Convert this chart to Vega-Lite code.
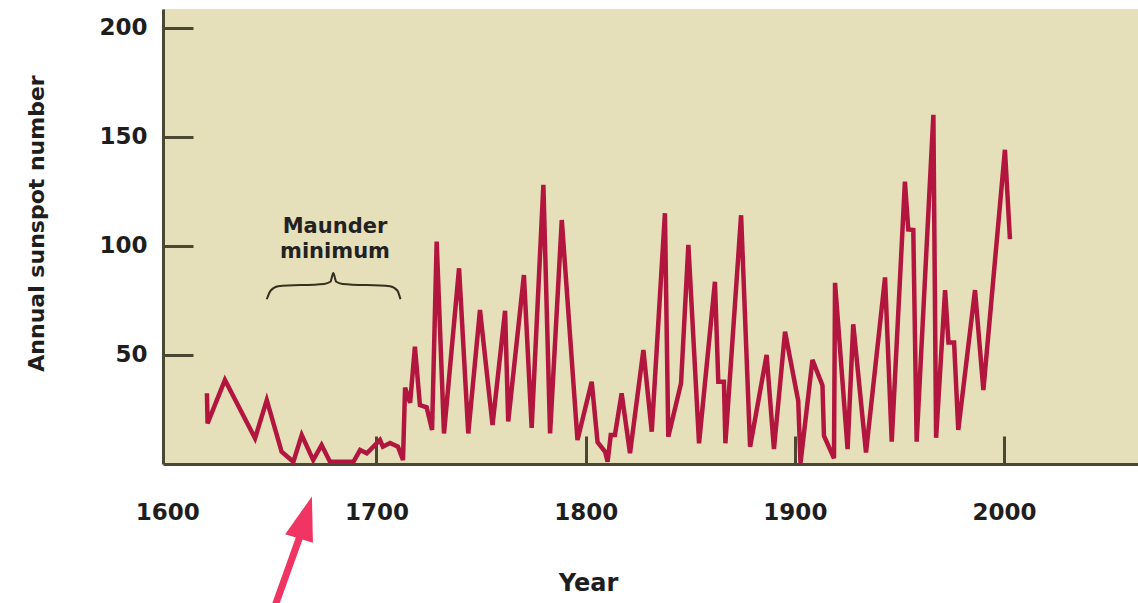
{
  "$schema": "https://vega.github.io/schema/vega-lite/v6.json",
  "width": 975,
  "height": 455,
  "autosize": {"type": "none"},
  "padding": {"left": 163, "top": 9, "right": 0, "bottom": 139},
  "background": "white",
  "config": {"view": {"fill": "#e6e0ba", "stroke": null}, "font": "DejaVu Sans"},
  "datasets": {
    "sunspots": [
      {"year": 1619.0, "value": 32.4}, {"year": 1619.3, "value": 18.6}, {"year": 1627.6, "value": 38.5},
      {"year": 1642.0, "value": 11.8}, {"year": 1647.6, "value": 29.3}, {"year": 1654.7, "value": 5.6},
      {"year": 1660.3, "value": 1}, {"year": 1664.3, "value": 13.3}, {"year": 1669.8, "value": 1.8},
      {"year": 1673.8, "value": 8.7}, {"year": 1677.8, "value": 1}, {"year": 1689.0, "value": 1},
      {"year": 1692.2, "value": 6.4}, {"year": 1695.4, "value": 4.9}, {"year": 1701.7, "value": 11},
      {"year": 1703.1, "value": 7.9}, {"year": 1706.5, "value": 9.6}, {"year": 1710.3, "value": 7.9},
      {"year": 1712.7, "value": 1.8}, {"year": 1713.7, "value": 35}, {"year": 1716.1, "value": 28},
      {"year": 1718.4, "value": 53.8}, {"year": 1720.8, "value": 27}, {"year": 1724.0, "value": 26},
      {"year": 1726.6, "value": 15.6}, {"year": 1728.8, "value": 101.9}, {"year": 1732.3, "value": 14},
      {"year": 1739.5, "value": 89.7}, {"year": 1743.9, "value": 14}, {"year": 1749.5, "value": 70.6},
      {"year": 1755.5, "value": 17.9}, {"year": 1761.5, "value": 70.2}, {"year": 1763.0, "value": 19.5},
      {"year": 1770.5, "value": 86.6}, {"year": 1774.2, "value": 16.5}, {"year": 1779.8, "value": 127.9},
      {"year": 1783.0, "value": 14}, {"year": 1788.6, "value": 111.8}, {"year": 1796.1, "value": 11},
      {"year": 1802.9, "value": 37.7}, {"year": 1805.7, "value": 10}, {"year": 1809.3, "value": 5.6},
      {"year": 1810.5, "value": 1}, {"year": 1812.0, "value": 13.3}, {"year": 1814.0, "value": 13.3},
      {"year": 1817.2, "value": 32.4}, {"year": 1821.2, "value": 4.9}, {"year": 1827.6, "value": 52.2},
      {"year": 1831.6, "value": 14.8}, {"year": 1837.9, "value": 114.9}, {"year": 1839.5, "value": 12.5},
      {"year": 1845.6, "value": 37}, {"year": 1849.1, "value": 100.4}, {"year": 1854.2, "value": 9.5},
      {"year": 1861.8, "value": 83.5}, {"year": 1863.4, "value": 37.7}, {"year": 1866.1, "value": 37.7},
      {"year": 1866.8, "value": 9.5}, {"year": 1874.3, "value": 114}, {"year": 1878.6, "value": 7.9},
      {"year": 1886.5, "value": 50}, {"year": 1890.0, "value": 6.8}, {"year": 1895.3, "value": 60.6},
      {"year": 1901.6, "value": 29}, {"year": 1902.7, "value": 0.5}, {"year": 1908.4, "value": 47.7},
      {"year": 1913.2, "value": 36}, {"year": 1913.9, "value": 13}, {"year": 1918.7, "value": 2.6},
      {"year": 1919.2, "value": 83}, {"year": 1925.2, "value": 6.8}, {"year": 1927.9, "value": 64},
      {"year": 1934.0, "value": 5.3}, {"year": 1943.1, "value": 85.5}, {"year": 1946.3, "value": 10.2},
      {"year": 1952.6, "value": 129.4}, {"year": 1954.2, "value": 107.5}, {"year": 1956.6, "value": 107.2},
      {"year": 1958.2, "value": 10.2}, {"year": 1966.2, "value": 160}, {"year": 1967.5, "value": 12},
      {"year": 1971.8, "value": 79.7}, {"year": 1973.4, "value": 55.7}, {"year": 1976.1, "value": 55.7},
      {"year": 1978.1, "value": 15.6}, {"year": 1986.1, "value": 79.7}, {"year": 1990.1, "value": 33.9},
      {"year": 2000.4, "value": 144}, {"year": 2002.8, "value": 103}
    ],
    "brace": [
      {"year": 1647.6, "value": 75.5}, {"year": 1649.5, "value": 79.5}, {"year": 1653.0, "value": 81.5},
      {"year": 1675.0, "value": 82.5}, {"year": 1678.0, "value": 83.5}, {"year": 1679.4, "value": 87.5},
      {"year": 1680.8, "value": 83.5}, {"year": 1683.8, "value": 82.5}, {"year": 1706.5, "value": 81.5},
      {"year": 1710.0, "value": 79.5}, {"year": 1711.5, "value": 75.5}
    ],
    "note": [{"year": 1680.2, "value": 108.8, "label": "Maunder|minimum"}],
    "arrowShaft": [{"year": 1650.8, "value": -67}, {"year": 1663.5, "value": -33}],
    "arrowHead": [{"year": 1666.1, "value": -24.5}]
  },
  "layer": [
    {
      "data": {"name": "sunspots"},
      "mark": {"type": "line", "color": "#b2163e", "strokeWidth": 4.5},
      "encoding": {
        "x": {
          "field": "year", "type": "quantitative",
          "scale": {"domain": [1598, 2064], "nice": false, "zero": false},
          "axis": {
            "title": "Year", "values": [1600, 1700, 1800, 1900, 2000], "format": "d",
            "grid": false, "domainColor": "#4a4733", "domainWidth": 3,
            "tickColor": {"condition": {"test": "datum.value == 1600", "value": "transparent"}, "value": "#4a4733"},
            "tickWidth": 3, "tickSize": -28, "labelPadding": 65,
            "labelFont": "DejaVu Sans", "labelFontWeight": "bold", "labelFontSize": 23, "labelColor": "#1e1e1e",
            "labelFlush": false, "labelOverlap": false,
            "titleFont": "DejaVu Sans", "titleFontWeight": "bold", "titleFontSize": 24, "titleColor": "#1e1e1e",
            "titleX": 425, "titleY": 119, "titleBaseline": "middle", "titleAlign": "center"
          }
        },
        "y": {
          "field": "value", "type": "quantitative",
          "scale": {"domain": [0, 208.5], "nice": false},
          "axis": {
            "title": "Annual sunspot number", "values": [50, 100, 150, 200],
            "grid": false, "domainColor": "#4a4733", "domainWidth": 3,
            "tickColor": "#4a4733", "tickWidth": 3, "tickSize": -30, "labelPadding": 46,
            "labelFont": "DejaVu Sans", "labelFontWeight": "bold", "labelFontSize": 23, "labelColor": "#1e1e1e",
            "labelFlush": false, "labelOverlap": false,
            "titleFont": "DejaVu Sans", "titleFontWeight": "bold", "titleFontSize": 22, "titleColor": "#1e1e1e",
            "titleX": -127, "titleY": 214, "titleAngle": -90, "titleBaseline": "middle", "titleAlign": "center"
          }
        }
      }
    },
    {
      "data": {"name": "brace"},
      "mark": {"type": "line", "color": "#33301f", "strokeWidth": 2, "interpolate": "monotone"},
      "encoding": {
        "x": {"field": "year", "type": "quantitative"},
        "y": {"field": "value", "type": "quantitative"}
      }
    },
    {
      "data": {"name": "note"},
      "mark": {"type": "text", "lineBreak": "|", "fontWeight": "bold", "fontSize": 21, "lineHeight": 25, "align": "center", "baseline": "middle", "color": "#222222", "font": "DejaVu Sans"},
      "encoding": {
        "x": {"field": "year", "type": "quantitative"},
        "y": {"field": "value", "type": "quantitative"},
        "text": {"field": "label"}
      }
    },
    {
      "data": {"name": "arrowShaft"},
      "mark": {"type": "line", "color": "#f03565", "strokeWidth": 7},
      "encoding": {
        "x": {"field": "year", "type": "quantitative"},
        "y": {"field": "value", "type": "quantitative"}
      }
    },
    {
      "data": {"name": "arrowHead"},
      "mark": {"type": "point", "shape": "M0,-1L-0.66,1L0.66,1Z", "filled": true, "color": "#f03565", "opacity": 1, "size": 1936, "angle": 17},
      "encoding": {
        "x": {"field": "year", "type": "quantitative"},
        "y": {"field": "value", "type": "quantitative"}
      }
    }
  ]
}
